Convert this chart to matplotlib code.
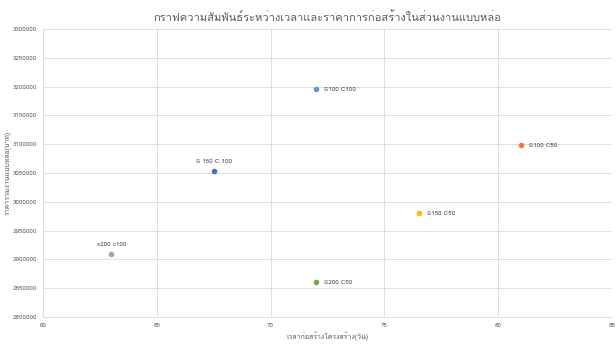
import matplotlib
matplotlib.use("Agg")
import matplotlib.pyplot as plt
from matplotlib import font_manager
from fontTools.ttLib import TTFont

# find an installed font that has Thai glyphs
thai_family = None
for fe in font_manager.fontManager.ttflist:
    try:
        f = TTFont(fe.fname, fontNumber=0, lazy=True)
        if 0x0E01 in f.getBestCmap():
            thai_family = fe.name
            break
    except Exception:
        pass

families = ['DejaVu Sans']
if thai_family:
    families = [thai_family, 'DejaVu Sans']
plt.rcParams['font.family'] = families

labels = ["S100 C100", "S100 C50", "s200 c100", "S150 C50", "S 150 C 100", "S200 C50"]
days = [72, 81, 63, 76.5, 67.5, 72]
prices = [3195000, 3098000, 2910000, 2980000, 3053000, 2860000]
colors = ["#5B9BD5", "#ED7D31", "#A5A5A5", "#FFC000", "#4472C4", "#70AD47"]
# label placement: right of point, or above it
label_pos = ["right", "right", "above", "right", "above", "right"]

fig = plt.figure(figsize=(6.16, 3.47), dpi=100)
ax = fig.add_axes([0.0698, 0.0865, 0.9237, 0.83])

for x, y, c, lab, pos in zip(days, prices, colors, labels, label_pos):
    ax.scatter(x, y, s=9, color=c, zorder=3)
    if pos == "right":
        ax.annotate(lab, (x, y), xytext=(6, 0), textcoords="offset points",
                    fontsize=4.5, color="#404040", va="center", ha="left")
    else:
        ax.annotate(lab, (x, y), xytext=(0, 5), textcoords="offset points",
                    fontsize=4.5, color="#404040", va="bottom", ha="center")

ax.set_xlim(60, 85)
ax.set_ylim(2800000, 3300000)
ax.set_xticks([60, 65, 70, 75, 80, 85])
ax.set_yticks(range(2800000, 3300001, 50000))
ax.ticklabel_format(style="plain", useOffset=False)
ax.tick_params(labelsize=4.5, colors="#595959", length=0, pad=4)
ax.grid(True, color="#D9D9D9", linewidth=0.6)
ax.set_axisbelow(True)
for side in ["top", "right"]:
    ax.spines[side].set_visible(False)
for side in ["left", "bottom"]:
    ax.spines[side].set_color("#D9D9D9")
    ax.spines[side].set_linewidth(0.6)

ax.set_title("กราฟความสัมพันธ์ระหว่างเวลาและราคาการก่อสร้างในส่วนงานแบบหล่อ",
             fontsize=8, color="#595959", pad=6)
ax.set_xlabel("เวลาก่อสร้างโครงสร้าง(วัน)", fontsize=5, color="#595959", labelpad=3)
ax.set_ylabel("ราคารวมงานแบบหล่อ(บาท)", fontsize=5, color="#595959", labelpad=1)

fig.savefig("out.png", dpi=100, facecolor="white")
